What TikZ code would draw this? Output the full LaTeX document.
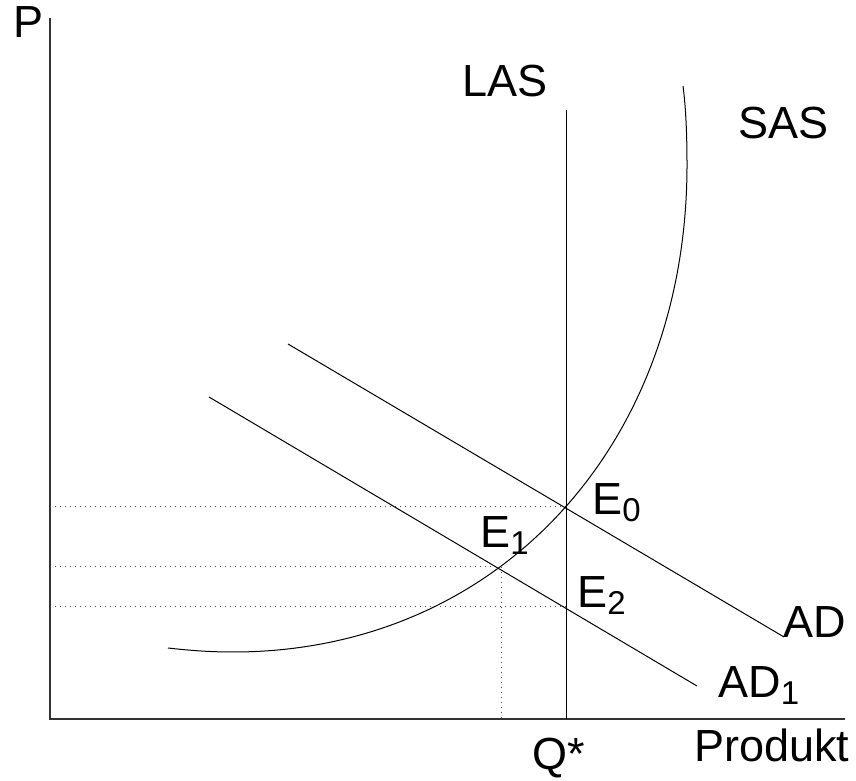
\documentclass[tikz,border=0pt]{standalone}
\usepackage{fontspec}
\setmainfont{Liberation Sans}
\usepackage{tikz}
\usetikzlibrary{positioning}
\newcommand{\lsub}[1]{\raisebox{-3.5pt}{\fontsize{16.5}{18}\selectfont #1}}

\begin{document}
\begin{tikzpicture}[
  x=0.5pt, y=0.5pt,
  font=\fontsize{22.5}{27}\selectfont,
  axis/.style={draw=black!80, line width=0.7pt},
  curve/.style={draw=black, line width=0.5pt},
  guide/.style={draw=black!70, dotted, line width=0.5pt},
  lbl/.style={inner sep=0pt, anchor=base west},
]
\useasboundingbox (0,0) rectangle (856,781);

% ===================== axes =====================
\coordinate (O)    at (50,62);
\coordinate (ytop) at (50,763);
\coordinate (xend) at (845,62);
\draw[axis] (ytop) -- (O) -- (xend);
\node[lbl] (plbl) at (13,743) {P};
\node[lbl] (prod) at (694,19) {Produkt};

% ===================== equilibrium points =====================
\coordinate (E0) at (566,274);
\coordinate (E1) at (501,214);
\coordinate (E2) at (566,174);

% dotted guides to the axes
\draw[guide] (O |- E0) -- (E0);
\draw[guide] (O |- E1) -- (E1);
\draw[guide] (O |- E2) -- (E2);
\draw[guide] (E1) -- (E1 |- O);

% ===================== LAS =====================
\coordinate (lastop) at (566,671);
\draw[curve] (lastop) -- (lastop |- O);
\node[lbl] (las) at (462,684) {LAS};
\node[lbl] (qstar) at (532,11) {Q*};

% ===================== SAS =====================
\coordinate (sasstart) at (168,133);
\coordinate (sasbot)   at (233,129);
\coordinate (sasright) at (687,616);
\coordinate (sastop)   at (683,695);
\draw[curve] (sasstart) .. controls (190,130.5) and (210,129) .. (sasbot)
  .. controls (496.3,129) and (687,333.5) .. (sasright)
  .. controls (687,651) and (685.5,676) .. (sastop);
\node[lbl] (sas) at (738,642) {SAS};

% ===================== AD and AD1 =====================
\coordinate (adtop)  at (288,437);
\coordinate (adbot)  at (784,144);
\coordinate (ad1top) at (209,384);
\coordinate (ad1bot) at (697,95);
\draw[curve] (adtop) -- (adbot);
\draw[curve] (ad1top) -- (ad1bot);
\node[lbl] (ad)  at (783,143) {AD};
\node[lbl] (ad1) at (718,83) {AD\lsub{1}};

% point labels
\node[lbl] (e0lbl) at (592,266) {E\lsub{0}};
\node[lbl] (e1lbl) at (480,233) {E\lsub{1}};
\node[lbl] (e2lbl) at (577,173) {E\lsub{2}};

\end{tikzpicture}
\end{document}
